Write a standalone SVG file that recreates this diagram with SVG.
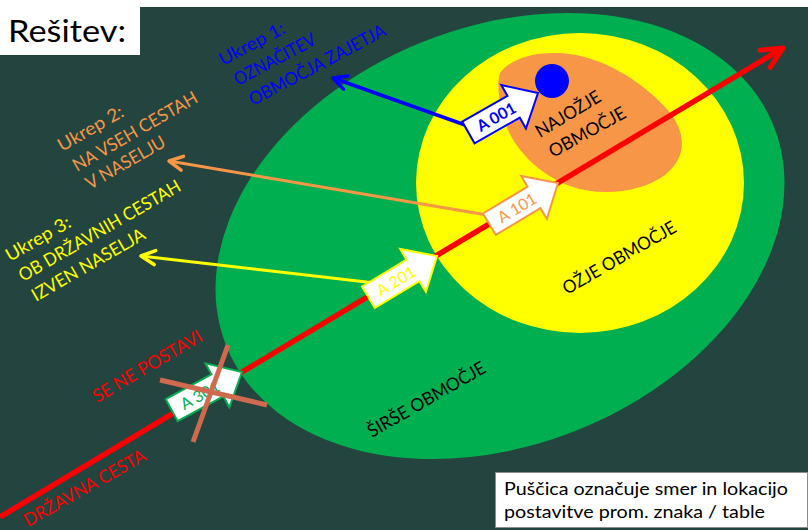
<svg xmlns="http://www.w3.org/2000/svg" width="808" height="530" viewBox="0 0 808 530">
<defs>
<style>
text{font-family:Lato,"Open Sans","DejaVu Sans",sans-serif;}
.lbl{font-size:18px;}
.blue{fill:#0000FF;}
.orange{fill:#F79646;}
.yellow{fill:#FFFF00;}
.red{fill:#FF0000;}
.black{fill:#000000;}
.sign{fill:#FFFFFF;stroke-width:2;}
.stxt{font-size:16px;text-anchor:middle;}
.cross{stroke:#CF6A4E;stroke-width:5;}
</style>
<marker id="arRed" markerUnits="userSpaceOnUse" orient="auto" overflow="visible" markerWidth="1" markerHeight="1" refX="0" refY="0">
<path d="M-21,-10L0,0L-21,10" fill="none" stroke="#FF0000" stroke-width="5" stroke-linecap="round" stroke-linejoin="round"/>
</marker>
<marker id="arBlue" markerUnits="userSpaceOnUse" orient="auto" overflow="visible" markerWidth="1" markerHeight="1" refX="0" refY="0">
<path d="M-13.5,-7L0,0L-13.5,7" fill="none" stroke="#0000FF" stroke-width="3.5" stroke-linecap="round" stroke-linejoin="round"/>
</marker>
<marker id="arOrange" markerUnits="userSpaceOnUse" orient="auto" overflow="visible" markerWidth="1" markerHeight="1" refX="0" refY="0">
<path d="M-13.5,-7L0,0L-13.5,7" fill="none" stroke="#F79646" stroke-width="3.5" stroke-linecap="round" stroke-linejoin="round"/>
</marker>
<marker id="arYellow" markerUnits="userSpaceOnUse" orient="auto" overflow="visible" markerWidth="1" markerHeight="1" refX="0" refY="0">
<path d="M-14,-7L0,0L-14,7" fill="none" stroke="#FFFF00" stroke-width="3.5" stroke-linecap="round" stroke-linejoin="round"/>
</marker>
</defs>

<rect x="0" y="0" width="808" height="530" fill="#23443F"/>
<rect x="0" y="0" width="808" height="7" fill="#FFFFFF"/>

<g id="title">
<rect x="0" y="0" width="140" height="55" fill="#FFFFFF"/>
<text x="8" y="42" font-size="31" textLength="118" lengthAdjust="spacingAndGlyphs" class="black">Rešitev:</text>
</g>

<g id="zone-sirse">
<ellipse cx="0" cy="0" rx="295" ry="209" fill="#00B050" transform="translate(500,236) rotate(-22)"/>
</g>
<g id="zone-ozje">
<ellipse cx="580" cy="183" rx="164" ry="150" fill="#FFFF00"/>
</g>
<g id="zone-najozje">
<path d="M500,73C510,60 530,52 560,53C600,55 640,80 665,107C685,128 690,155 665,175C640,193 600,197 570,186C540,175 515,150 506,125C500,108 496,85 500,73Z" fill="#F79646"/>
</g>
<g id="zajetje">
<circle cx="552" cy="81" r="17" fill="#0000FF"/>
</g>

<g id="connectors">
<line id="road" x1="0" y1="517" x2="783" y2="48" stroke="#FF0000" stroke-width="5.5" marker-end="url(#arRed)"/>
<line id="arrow-ukrep1" x1="468" y1="126" x2="333" y2="78" stroke="#0000FF" stroke-width="3.5" marker-end="url(#arBlue)"/>
<line id="arrow-ukrep2" x1="487" y1="215" x2="169" y2="161" stroke="#F79646" stroke-width="3" marker-end="url(#arOrange)"/>
<line id="arrow-ukrep3" x1="375" y1="283" x2="141" y2="256" stroke="#FFFF00" stroke-width="3" marker-end="url(#arYellow)"/>
</g>

<g id="sign-a001" transform="translate(538,93) rotate(-29.5)">
<path class="sign" stroke="#0000FF" d="M-80,-12.5H-28V-25L0,0L-28,25V12.5H-80Z"/>
<text class="stxt blue" x="-48" y="6" font-weight="bold">A 001</text>
</g>
<g id="sign-a101" transform="translate(558,183) rotate(-31)">
<path class="sign" stroke="#F79646" d="M-80,-12.5H-28V-25L0,0L-28,25V12.5H-80Z"/>
<text class="stxt orange" x="-48" y="6">A 101</text>
</g>
<g id="sign-a201" transform="translate(437,256) rotate(-31)">
<path class="sign" stroke="#FFFF00" d="M-80,-12.5H-28V-25L0,0L-28,25V12.5H-80Z"/>
<text class="stxt yellow" x="-48" y="6">A 201</text>
</g>
<g id="sign-a301" transform="translate(242,372) rotate(-28.5)">
<path class="sign" stroke="#00B050" d="M-80,-12.5H-28V-25L0,0L-28,25V12.5H-80Z"/>
<text class="stxt" fill="#00B050" x="-48" y="6">A 301</text>
</g>
<g id="cross">
<line class="cross" x1="160" y1="380" x2="267" y2="405"/>
<line class="cross" x1="228" y1="345" x2="193" y2="442"/>
</g>

<g id="label-ukrep1" class="lbl blue">
<text transform="translate(223,66) rotate(-28)" textLength="72" lengthAdjust="spacingAndGlyphs">Ukrep 1:</text>
<text transform="translate(238,86) rotate(-28)" textLength="90" lengthAdjust="spacingAndGlyphs">OZNAČITEV</text>
<text transform="translate(253,106) rotate(-28)" textLength="152" lengthAdjust="spacingAndGlyphs">OBMOČJA ZAJETJA</text>
</g>
<g id="label-ukrep2" class="lbl orange">
<text transform="translate(62,152) rotate(-30)" textLength="73" lengthAdjust="spacingAndGlyphs">Ukrep 2:</text>
<text transform="translate(77,172) rotate(-30)" textLength="141" lengthAdjust="spacingAndGlyphs">NA VSEH CESTAH</text>
<text transform="translate(90,190) rotate(-30)" textLength="89" lengthAdjust="spacingAndGlyphs">V NASELJU</text>
</g>
<g id="label-ukrep3" class="lbl yellow">
<text transform="translate(10,262) rotate(-30)" textLength="72" lengthAdjust="spacingAndGlyphs">Ukrep 3:</text>
<text transform="translate(23,282) rotate(-30)" textLength="184" lengthAdjust="spacingAndGlyphs">OB DRŽAVNIH CESTAH</text>
<text transform="translate(36,302) rotate(-30)" textLength="128" lengthAdjust="spacingAndGlyphs">IZVEN NASELJA</text>
</g>
<g id="label-road" class="lbl red">
<text transform="translate(97,403) rotate(-30.5)" textLength="124" lengthAdjust="spacingAndGlyphs">SE NE POSTAVI</text>
<text transform="translate(28,527) rotate(-29.5)" textLength="137" lengthAdjust="spacingAndGlyphs">DRŽAVNA CESTA</text>
</g>
<g id="label-zones" class="lbl black">
<text transform="translate(540,138) rotate(-31)" textLength="73" lengthAdjust="spacingAndGlyphs">NAJOŽJE</text>
<text transform="translate(553,158) rotate(-29)" textLength="85" lengthAdjust="spacingAndGlyphs">OBMOČJE</text>
<text transform="translate(567,295) rotate(-30)" textLength="128" lengthAdjust="spacingAndGlyphs">OŽJE OBMOČJE</text>
<text transform="translate(372,438) rotate(-30)" textLength="133" lengthAdjust="spacingAndGlyphs">ŠIRŠE OBMOČJE</text>
</g>

<g id="note">
<rect x="495.5" y="472.5" width="312" height="55" fill="#FFFFFF" stroke="#8C8C8C" stroke-width="1"/>
<text x="504" y="495" font-size="17" class="black" textLength="284" lengthAdjust="spacingAndGlyphs">Puščica označuje smer in lokacijo</text>
<text x="504" y="518" font-size="17" class="black" textLength="261" lengthAdjust="spacingAndGlyphs">postavitve prom. znaka / table</text>
</g>
</svg>
